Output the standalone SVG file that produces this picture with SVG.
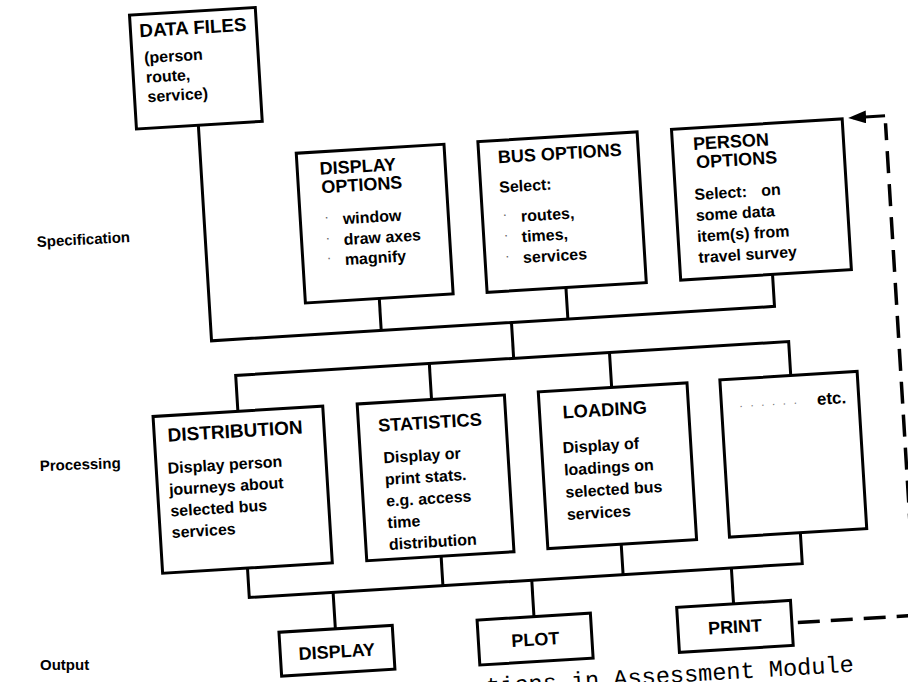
<svg xmlns="http://www.w3.org/2000/svg" width="908" height="682" viewBox="0 0 908 682">
<style>
.box{fill:#fff;stroke:#000;stroke-width:3}
.ln{fill:none;stroke:#000;stroke-width:3;stroke-linejoin:miter}
.dash{fill:none;stroke:#000;stroke-width:3.5;stroke-dasharray:22 11}
text{font-family:"Liberation Sans",Arial,sans-serif;font-weight:bold;fill:#000}
.h{font-size:18px}
.b{font-size:16px}
.o{font-size:18px;text-anchor:middle}
.lbl{font-size:15px}
.dot{font-size:14px;fill:#666;font-weight:normal}
.lead{font-size:12px;fill:#777;font-weight:normal;letter-spacing:7.5px}
.cap{font-family:"Liberation Mono","Courier New",monospace;font-weight:normal;font-size:23.6px}
</style>
<defs>
<marker id="ah" markerUnits="userSpaceOnUse" markerWidth="18" markerHeight="13" refX="13" refY="6.5" orient="auto">
<path d="M0,0 L18,6.5 L0,13 z" fill="#000"/>
</marker>
</defs>
<rect width="908" height="682" fill="#fff"/>
<g transform="rotate(-3.5 454 341)">
<g id="connectors">
<path class="ln" d="M212,110 V326 H776 V294"/>
<path class="ln" d="M382,294 V326"/>
<path class="ln" d="M569,294.5 V326"/>
<path class="ln" d="M512.5,326 V362"/>
<path class="ln" d="M234,398 V362 H788 V396"/>
<path class="ln" d="M428,362 V398"/>
<path class="ln" d="M608.5,362 V397"/>
<path class="ln" d="M234,555 V584.5 H788 V553.5"/>
<path class="ln" d="M428,555 V584.5"/>
<path class="ln" d="M608.5,554 V584.5"/>
<path class="ln" d="M318,584.5 V621"/>
<path class="ln" d="M517,584.5 V621"/>
<path class="ln" d="M717,584.5 V620.5"/>
<path class="dash" d="M780,643 H898 V150"/>
<path class="ln" d="M898,142.5 H866" marker-end="url(#ah)"/>
</g>
<g id="data-files">
<rect class="box" x="150" y="-4" width="126" height="114"/>
<text class="h" x="159" y="18.7" style="font-size:18.8px">DATA FILES</text>
<text class="b" x="162" y="44.9">(person</text>
<text class="b" x="162.5" y="64.5">route,</text>
<text class="b" x="163" y="84">service)</text>
</g>
<g id="display-options">
<rect class="box" x="308" y="144" width="148" height="150"/>
<text class="h" x="330.5" y="167">DISPLAY</text>
<text class="h" x="331" y="185.5">OPTIONS</text>
<text class="dot" x="332" y="214">·</text>
<text class="dot" x="332" y="235">·</text>
<text class="dot" x="332" y="255">·</text>
<text class="b" x="350.5" y="217.7">window</text>
<text class="b" x="350" y="238.5">draw axes</text>
<text class="b" x="350" y="258.5">magnify</text>
</g>
<g id="bus-options">
<rect class="box" x="490" y="143.5" width="159.5" height="151"/>
<text class="h" x="509" y="166.3">BUS OPTIONS</text>
<text class="b" x="508.5" y="195.8">Select:</text>
<text class="dot" x="510" y="222.5">·</text>
<text class="dot" x="510" y="243">·</text>
<text class="dot" x="510" y="264">·</text>
<text class="b" x="528.5" y="226">routes,</text>
<text class="b" x="528" y="246.5">times,</text>
<text class="b" x="528" y="267.5">services</text>
</g>
<g id="person-options">
<rect class="box" x="684" y="143" width="171" height="151"/>
<text class="h" x="704.6" y="165">PERSON</text>
<text class="h" x="706.7" y="183.4">OPTIONS</text>
<text class="b" x="703" y="215">Select:<tspan x="769.7">on</tspan></text>
<text class="b" x="703" y="236">some data</text>
<text class="b" x="703" y="257">item(s) from</text>
<text class="b" x="703" y="278">travel survey</text>
</g>
<g id="distribution">
<rect class="box" x="149" y="398" width="170" height="157"/>
<text class="h" x="162.5" y="424" style="font-size:19px">DISTRIBUTION</text>
<text class="b" x="160.5" y="456">Display person</text>
<text class="b" x="160.5" y="477.5">journeys about</text>
<text class="b" x="160.5" y="499">selected bus</text>
<text class="b" x="160.5" y="520.5">services</text>
</g>
<g id="statistics">
<rect class="box" x="353.5" y="398" width="147.5" height="157"/>
<text class="h" x="373" y="427" style="font-size:18.3px">STATISTICS</text>
<text class="b" x="376.5" y="458.8">Display or</text>
<text class="b" x="376.5" y="480.5">print stats.</text>
<text class="b" x="376.5" y="502.2">e.g. access</text>
<text class="b" x="376.5" y="523.9">time</text>
<text class="b" x="376.5" y="545.6">distribution</text>
</g>
<g id="loading">
<rect class="box" x="535" y="397" width="149" height="157"/>
<text class="h" x="558" y="425" style="font-size:18.3px">LOADING</text>
<text class="b" x="556" y="459.8">Display of</text>
<text class="b" x="556" y="482">loadings on</text>
<text class="b" x="556" y="504.3">selected bus</text>
<text class="b" x="556" y="526.6">services</text>
</g>
<g id="etc">
<rect class="box" x="717" y="396" width="137.5" height="157.5"/>
<text class="lead" x="735" y="424.6">......</text>
<text class="b" x="812.7" y="427" style="font-size:17px">etc.</text>
</g>
<g id="display">
<rect class="box" x="261.5" y="621" width="113.5" height="44"/>
<text class="o" x="318" y="650">DISPLAY</text>
</g>
<g id="plot">
<rect class="box" x="460" y="621" width="113.5" height="45"/>
<text class="o" x="517" y="650">PLOT</text>
</g>
<g id="print">
<rect class="box" x="660" y="620.5" width="114" height="45"/>
<text class="o" x="717" y="649.5">PRINT</text>
</g>
<text class="cap" x="465" y="695.4">tions in Assessment Module</text>
</g>
<g id="labels">
<text class="lbl" x="37" y="247" transform="rotate(-3 37 247)">Specification</text>
<text class="lbl" x="40" y="471" transform="rotate(-2 40 471)">Processing</text>
<text class="lbl" x="40" y="670">Output</text>
</g>
</svg>
